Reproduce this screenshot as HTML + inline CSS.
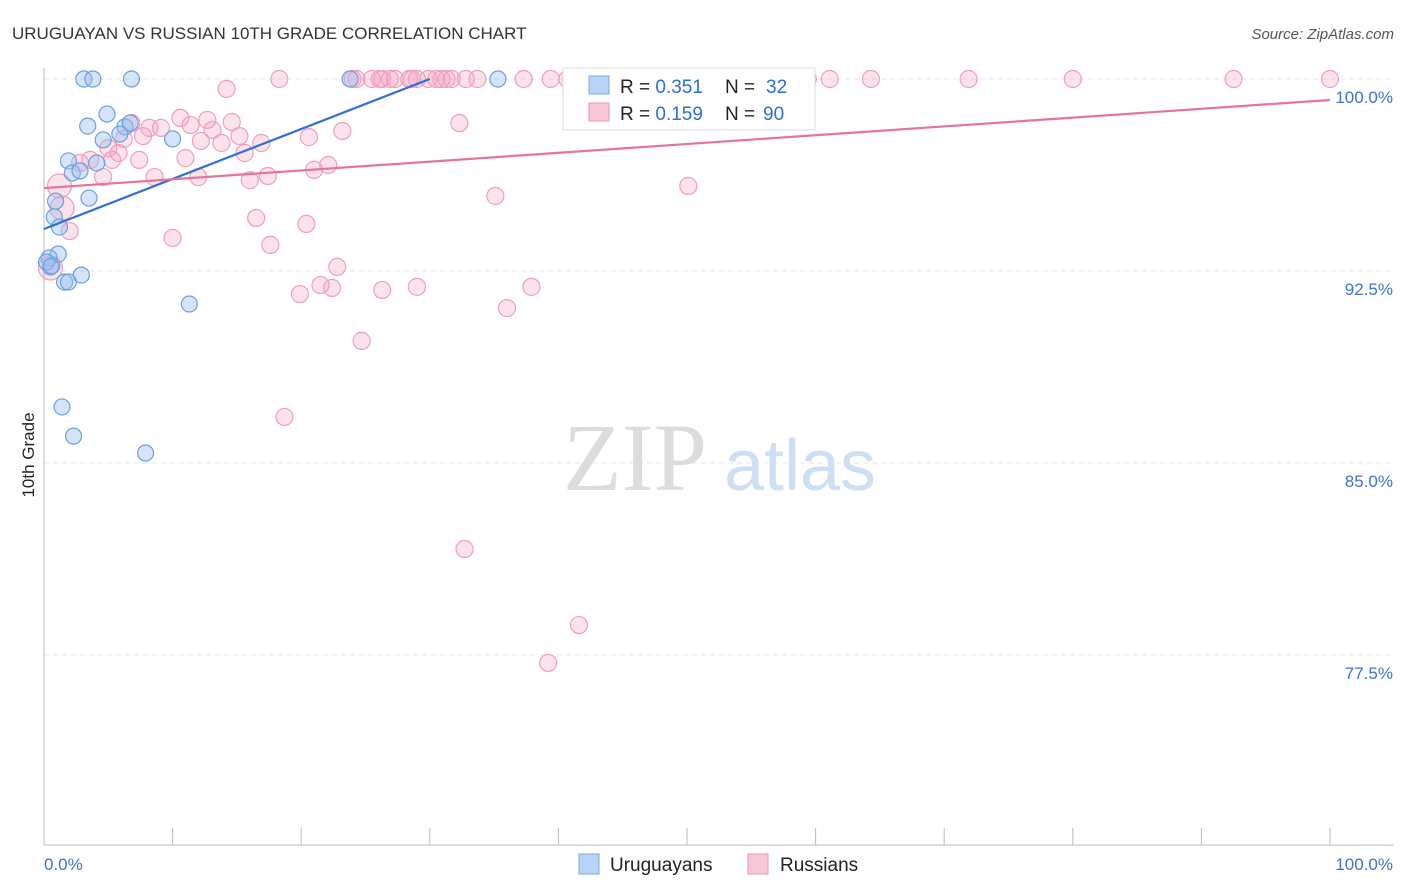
<!DOCTYPE html>
<html><head><meta charset="utf-8"><style>
body{margin:0;background:#fff;font-family:"Liberation Sans",sans-serif}
svg{display:block}
</style></head><body>
<svg id="chart" width="1406" height="892" xmlns="http://www.w3.org/2000/svg">
<text x="12" y="39" font-size="17" fill="#333">URUGUAYAN VS RUSSIAN 10TH GRADE CORRELATION CHART</text>
<text x="1394" y="39" font-size="15" fill="#555" text-anchor="end" font-style="italic">Source: ZipAtlas.com</text>
<text x="34" y="455" font-size="17" fill="#222" transform="rotate(-90 34 455)" text-anchor="middle">10th Grade</text>
<g id="grid"></g>
<g>
<text x="635" y="490" font-size="96" font-family="Liberation Serif" fill="#dcdcdc" text-anchor="middle">ZIP</text>
<text x="800" y="490" font-size="72" fill="#cfdff3" text-anchor="middle">atlas</text>
</g>
<g id="axes"></g>
<g id="pts"></g>
<g id="trends"></g>
<g>
<rect x="563" y="68" width="252" height="62" fill="#fff" stroke="#ddd"/>
<rect x="589" y="76" width="20" height="18" fill="#b7d3f5" stroke="#7aa8e0"/>
<text x="620" y="93" font-size="19" fill="#222">R = <tspan fill="#2c6fd6">0.351</tspan></text>
<text x="725" y="93" font-size="19" fill="#222">N =</text>
<text x="766" y="93" font-size="19" fill="#2c6fd6">32</text>
<rect x="589" y="103" width="20" height="18" fill="#f9c8d6" stroke="#eb95b0"/>
<text x="620" y="120" font-size="19" fill="#222">R = <tspan fill="#2c6fd6">0.159</tspan></text>
<text x="725" y="120" font-size="19" fill="#222">N =</text>
<text x="763" y="120" font-size="19" fill="#2c6fd6">90</text>
</g>
<g>
<rect x="579" y="854" width="20" height="20" fill="#b7d3f5" stroke="#7aa8e0"/>
<text x="610" y="871" font-size="19" fill="#222">Uruguayans</text>
<rect x="748" y="854" width="20" height="20" fill="#f9c8d6" stroke="#eb95b0"/>
<text x="780" y="871" font-size="19" fill="#222">Russians</text>
</g>
</svg>
<script>
const yTicks=[100,92.5,85,77.5];
const blueX=[3.1,3.8,6.8,23.8,35.3,4.9,3.4,6.3,6.7,5.9,4.6,10.0,1.9,4.1,2.2,2.8,0.9,3.5,0.8,1.2,1.1,0.4,0.5,1.6,1.9,2.9,11.3,1.4,2.3,7.9,0.2,0.6];
const blueY=[100,100,100,100,100,98.63,98.16,98.13,98.28,97.85,97.62,97.66,96.8,96.72,96.33,96.41,95.23,95.35,94.61,94.22,93.16,93.01,92.66,92.07,92.07,92.34,91.21,87.19,86.05,85.39,92.85,92.7];
const pinkX=[18.3,24.0,24.3,25.5,26.3,26.9,27.3,28.6,29.0,30.5,30.9,31.3,31.7,32.8,33.7,37.3,39.4,40.7,47.1,50.7,52.0,52.6,59.4,61.1,64.3,71.9,80.0,92.5,100,26.1,28.4,29.9,
14.2,6.8,8.2,9.1,10.6,11.4,12.7,14.6,13.1,7.7,6.2,15.2,16.9,12.2,13.8,20.6,23.2,32.3,5.0,5.8,15.6,3.6,2.8,5.3,7.4,11.0,22.1,21.0,4.6,8.6,12.0,17.4,16.0,1.2,50.1,35.1,1.4,16.5,20.4,2.0,10.0,17.6,0.5,22.8,21.5,22.4,19.9,26.3,29.0,37.9,36.0,24.7,18.7,32.7,41.6,39.2];
const pinkY=[100,100,100,100,100,100,100,100,100,100,100,100,100,100,100,100,100,100,100,100,100,100,100,100,100,100,100,100,100,100,100,100,
99.61,98.28,98.09,98.09,98.48,98.2,98.4,98.32,98.01,97.77,97.66,97.77,97.5,97.58,97.5,97.73,97.97,98.28,97.3,97.11,97.11,96.84,96.72,96.84,96.84,96.91,96.64,96.45,96.17,96.17,96.17,96.21,96.05,95.82,95.82,95.43,94.96,94.57,94.34,94.06,93.79,93.52,92.62,92.66,91.95,91.84,91.6,91.76,91.88,91.88,91.05,89.77,86.8,81.64,78.67,77.19];
const blueTrend=[[0,94.14],[30,100]];
const pinkTrend=[[0,95.74],[100,99.18]];
const X=v=>44+v*12.86, Y=v=>79+(100-v)*192/7.5;
const NS="http://www.w3.org/2000/svg";
function mk(t,a,p){const e=document.createElementNS(NS,t);for(const k in a)e.setAttribute(k,a[k]);p.appendChild(e);return e;}
const grid=document.getElementById('grid'),axes=document.getElementById('axes');
yTicks.forEach(t=>{
 const l=mk('line',{x1:44,x2:1394,y1:Y(t),y2:Y(t),stroke:'#e4e4e4','stroke-dasharray':'5,4'},grid);
 
 
 const tx=mk('text',{x:1393,y:Y(t)+24,'font-size':17,fill:'#3b73d1','text-anchor':'end'},axes);
 tx.textContent=t.toFixed(1)+'%';
 
 
});
mk('line',{x1:44,x2:44,y1:68,y2:845,stroke:'#bbb'},axes);
mk('line',{x1:44,x2:1394,y1:845,y2:845,stroke:'#bbb'},axes);
for(let i=0;i<=10;i++){const t=mk('line',{x1:X(i*10),x2:X(i*10),y1:828,y2:845,stroke:'#bbb'},axes);
 
 }
const x0=mk('text',{x:44,y:870,'font-size':17,fill:'#3b73d1'},axes);x0.textContent='0.0%';

const x1=mk('text',{x:1393,y:870,'font-size':17,fill:'#3b73d1','text-anchor':'end'},axes);x1.textContent='100.0%';

const pts=document.getElementById('pts');
pinkX.forEach((v,i)=>{const r=(v<2&&pinkY[i]<96.5&&pinkY[i]>92)?12:8.5;
 const c=mk('circle',{cx:X(v),cy:Y(pinkY[i]),r:r,fill:'rgba(245,160,190,0.3)',stroke:'#eda0ba','stroke-width':1.2},pts);
 
 });
blueX.forEach((v,i)=>{const c=mk('circle',{cx:X(v),cy:Y(blueY[i]),r:8,fill:'rgba(150,190,240,0.4)',stroke:'#6e9fdc','stroke-width':1.2},pts);
 
 });
const tr=document.getElementById('trends');
const b=mk('line',{x1:X(blueTrend[0][0]),y1:Y(blueTrend[0][1]),x2:X(blueTrend[1][0]),y2:Y(blueTrend[1][1]),stroke:'#2f6fd8','stroke-width':2.2},tr);


const p=mk('line',{x1:X(pinkTrend[0][0]),y1:Y(pinkTrend[0][1]),x2:X(pinkTrend[1][0]),y2:Y(pinkTrend[1][1]),stroke:'#e8739a','stroke-width':2.2},tr);


</script>
</body></html>
